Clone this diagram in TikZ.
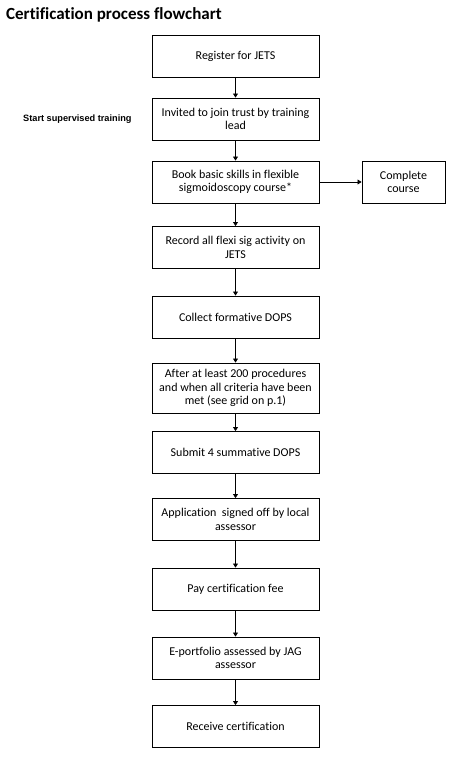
\documentclass[tikz,border=0pt]{standalone}
\usepackage{fontspec}
\setmainfont[Ligatures={NoCommon}]{Carlito}
\newfontfamily\arialfont{Liberation Sans}
\usetikzlibrary{arrows.meta}
\begin{document}
\begin{tikzpicture}[x=1pt,y=-1pt,
  box/.style={draw,line width=0.9pt,minimum width=167pt,minimum height=42pt,align=center,font=\fontsize{12}{13.5}\selectfont,inner sep=2pt},
  sbox/.style={box,minimum width=83pt},
  arr/.style={line width=0.8pt,-{Triangle[length=4pt,width=5pt]}}]
\useasboundingbox (0,0) rectangle (461,773);
\node[anchor=west,font=\bfseries\fontsize{17}{20}\selectfont,inner sep=0pt] (title) at (6,15) {Certification process flowchart};
\node[anchor=west,font=\arialfont\bfseries\fontsize{9.2}{11}\selectfont,inner sep=0pt] (sst) at (23,119) {Start supervised training};
\node[box] (b1) at (235.5,56) {Register for JETS};
\node[box] (b2) at (235.5,119) {Invited to join trust by training\\lead};
\node[box] (b3) at (235.5,182) {Book basic skills in flexible\\sigmoidoscopy course*};
\node[sbox] (c) at (403.5,182) {Complete\\course};
\node[box] (b4) at (235.5,247.5) {Record all flexi sig activity on\\JETS};
\node[box] (b5) at (235.5,317) {Collect formative DOPS};
\node[box,minimum height=50pt] (b6) at (235.5,388) {After at least 200 procedures\\and when all criteria have been\\met (see grid on p.1)};
\node[box] (b7) at (235.5,452.5) {Submit 4 summative DOPS};
\node[box] (b8) at (235.5,519.5) {Application\ \ signed off by local\\assessor};
\node[box] (b9) at (235.5,589) {Pay certification fee};
\node[box] (b10) at (235.5,658) {E-portfolio assessed by JAG\\assessor};
\node[box] (b11) at (235.5,726.5) {Receive certification};
\foreach \a/\b in {b1/b2,b2/b3,b3/b4,b4/b5,b5/b6,b6/b7,b7/b8,b8/b9,b9/b10,b10/b11}
  \draw[arr] (\a) -- (\b);
\draw[arr] (b3) -- (c);
\end{tikzpicture}
\end{document}
